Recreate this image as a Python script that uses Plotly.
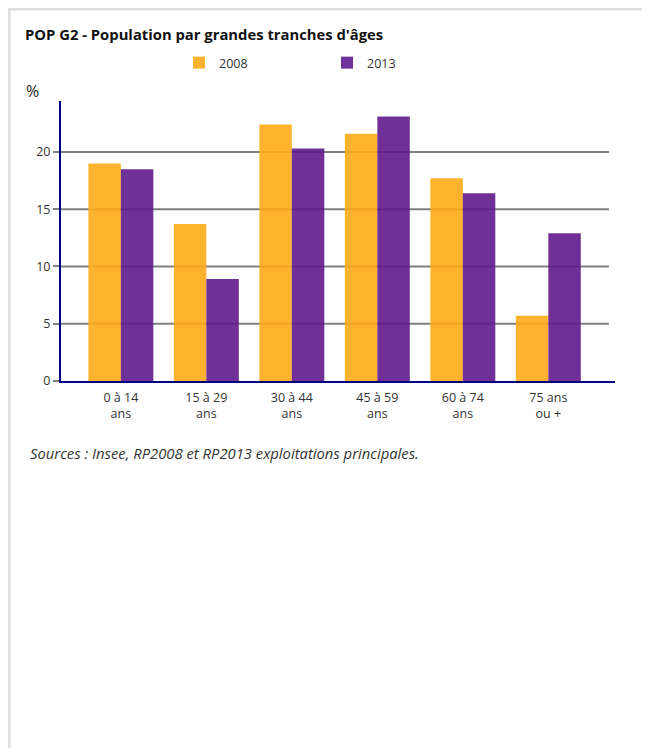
import plotly.graph_objects as go

categories = ["0 à 14<br>ans", "15 à 29<br>ans", "30 à 44<br>ans", "45 à 59<br>ans", "60 à 74<br>ans", "75 ans<br>ou +"]
values_2008 = [19.0, 13.7, 22.4, 21.6, 17.7, 5.7]
values_2013 = [18.5, 8.9, 20.3, 23.1, 16.4, 12.9]
series_names = ["2008", "2013"]
y_ticks = [0, 5, 10, 15, 20]

# page body has an 8px margin: work in reference coords shifted by OFF
OFF = 8
W, H = 650 - OFF, 756 - 2 * OFF
L, T = 61 - OFF, 101 - OFF
PR, PB = 615 - OFF, 381 - OFF
R, B = W - PR, H - PB
pw, ph = PR - L, PB - T

def px(x):
    return (x - OFF - L) / pw

def py(y):
    return (PB - (y - OFF)) / ph

FONT = "Open Sans"

fig = go.Figure()
fig.add_trace(go.Bar(x=categories, y=values_2008, name=series_names[0],
                     marker=dict(color="#FDAB18", line=dict(width=0)), opacity=0.9))
fig.add_trace(go.Bar(x=categories, y=values_2013, name=series_names[1],
                     marker=dict(color="#601B8C", line=dict(width=0)), opacity=0.9))

fig.update_layout(
    width=W, height=H,
    margin=dict(l=L, r=R, t=T, b=B, pad=0),
    paper_bgcolor="white", plot_bgcolor="white",
    barmode="group", bargap=0.24, bargroupgap=0,
    font=dict(family=FONT, size=12.5, color="#333333"),
    showlegend=True,
    legend=dict(orientation="h", x=px(179), y=py(63), xanchor="left", yanchor="middle",
                entrywidth=103, entrywidthmode="pixels",
                font=dict(family=FONT, size=12.5, color="#333333"),
                bgcolor="rgba(0,0,0,0)"),
    xaxis=dict(range=[-0.70, 5.78], showline=True, linecolor="#000080", linewidth=2,
               showgrid=False, ticks="", ticklabelstandoff=4,
               tickfont=dict(size=12.5, color="#333333"), fixedrange=True),
    yaxis=dict(range=[0, 24.45], tickvals=y_ticks, showline=True, linecolor="#000080",
               linewidth=2, showgrid=False,
               ticks="outside", ticklen=6, tickcolor="#808080", tickwidth=2,
               tickfont=dict(size=12.5, color="#333333"), zeroline=False, fixedrange=True),
)

# horizontal grid lines (stop short of the plot's right edge, as in the reference)
for v in y_ticks[1:]:
    fig.add_shape(type="line", xref="paper", yref="y", x0=0, x1=px(609), y0=v, y1=v,
                  line=dict(color="#808080", width=2), layer="below")

# outer frame
fig.add_shape(type="rect", xref="paper", yref="paper",
              x0=px(9), x1=px(649), y0=py(790), y1=py(9),
              line=dict(color="#dedede", width=3), fillcolor="rgba(0,0,0,0)", layer="below")

fig.add_annotation(text="<b>POP G2 - Population par grandes tranches d'âges</b>",
                   xref="paper", yref="paper", x=px(23), y=py(34), xanchor="left",
                   yanchor="middle", showarrow=False,
                   font=dict(family=FONT, size=14.8, color="#111111"))
fig.add_annotation(text="%", xref="paper", yref="paper", x=px(24), y=py(91),
                   xanchor="left", yanchor="middle", showarrow=False,
                   font=dict(family=FONT, size=16, color="#222222"))
fig.add_annotation(text="<i>Sources : Insee, RP2008 et RP2013 exploitations principales.</i>",
                   xref="paper", yref="paper", x=px(28), y=py(453), xanchor="left",
                   yanchor="middle", showarrow=False,
                   font=dict(family=FONT, size=14.8, color="#333333"))

fig.write_html("out.html")
